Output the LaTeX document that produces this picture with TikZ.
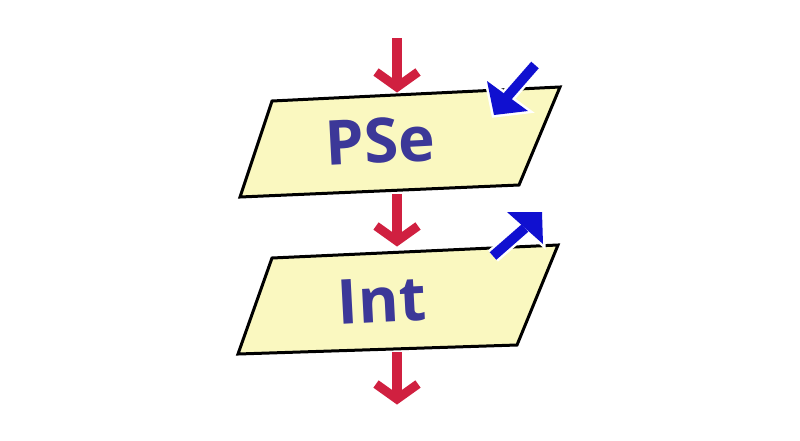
\documentclass[tikz,border=0pt]{standalone}
\usepackage{fontspec}
\setmainfont{Open Sans}
\usetikzlibrary{calc}
\definecolor{boxfill}{RGB}{250,248,192}
\definecolor{arrred}{RGB}{208,32,64}
\definecolor{arrblue}{RGB}{16,16,208}
\definecolor{txtblue}{RGB}{60,56,152}
\tikzset{
  paraBox/.style={draw=black, fill=boxfill, line width=3pt, line join=miter},
  redShaft/.style={draw=arrred, line width=10pt},
  redHead/.style={draw=arrred, line width=9pt, line join=miter, miter limit=10},
  blueHalo/.style={draw=white, line width=15pt},
  blueHaloHead/.style={draw=white, fill=white, line width=5pt, line join=miter},
  blueShaft/.style={draw=arrblue, line width=10pt},
  blueHead/.style={fill=arrblue},
  label/.style={text=txtblue, font=\bfseries\fontsize{62}{62}\selectfont, anchor=base, inner sep=0pt, rotate=3}
}
\begin{document}
\begin{tikzpicture}[x=1pt,y=-1pt]
\useasboundingbox[fill=white] (0,0) rectangle (800,440);
% top box
\coordinate (A1) at (272,101);
\coordinate (A2) at (560,87);
\coordinate (A3) at (519,185);
\coordinate (A4) at (240,197);
% bottom box
\coordinate (B1) at (272,258);
\coordinate (B2) at (558,245);
\coordinate (B3) at (517,345);
\coordinate (B4) at (238,354);
\draw[paraBox] (A1)--(A2)--(A3)--(A4)--cycle;
\draw[paraBox] (B1)--(B2)--(B3)--(B4)--cycle;
\node[label] (pse) at (381,163) {PSe};
\node[label] (int) at (383,322) {Int};
% red arrows
\coordinate (r1s) at (397,38);  \coordinate (r1t) at (397,87);
\coordinate (r2s) at (397,194); \coordinate (r2t) at (397,241);
\coordinate (r3s) at (397,352); \coordinate (r3t) at (397,399);
\foreach \s/\t in {r1s/r1t, r2s/r2t, r3s/r3t}{
  \draw[redShaft] (\s) -- ($(\t)+(0,-4)$);
  \draw[redHead] ($(\t)+(-21,-15)$) -- (\t) -- ($(\t)+(21,-15)$);
}
% blue arrows
\coordinate (b1s) at (535,65);  \coordinate (b1m) at (507,97);
\coordinate (b1t) at (494,115); \coordinate (b1c) at (487,81); \coordinate (b1d) at (528,111);
\coordinate (b2s) at (493,256); \coordinate (b2m) at (525,228);
\coordinate (b2t) at (542,212); \coordinate (b2c) at (507,212); \coordinate (b2d) at (543,244);
\foreach \s/\m/\t/\c/\d in {b1s/b1m/b1t/b1c/b1d, b2s/b2m/b2t/b2c/b2d}{
  \draw[blueHalo] (\s) -- (\m);
  \filldraw[blueHaloHead] (\t) -- (\c) -- (\d) -- cycle;
}
\foreach \s/\m/\t/\c/\d in {b1s/b1m/b1t/b1c/b1d, b2s/b2m/b2t/b2c/b2d}{
  \draw[blueShaft] (\s) -- (\m);
  \fill[blueHead] (\t) -- (\c) -- (\d) -- cycle;
}
\end{tikzpicture}
\end{document}
